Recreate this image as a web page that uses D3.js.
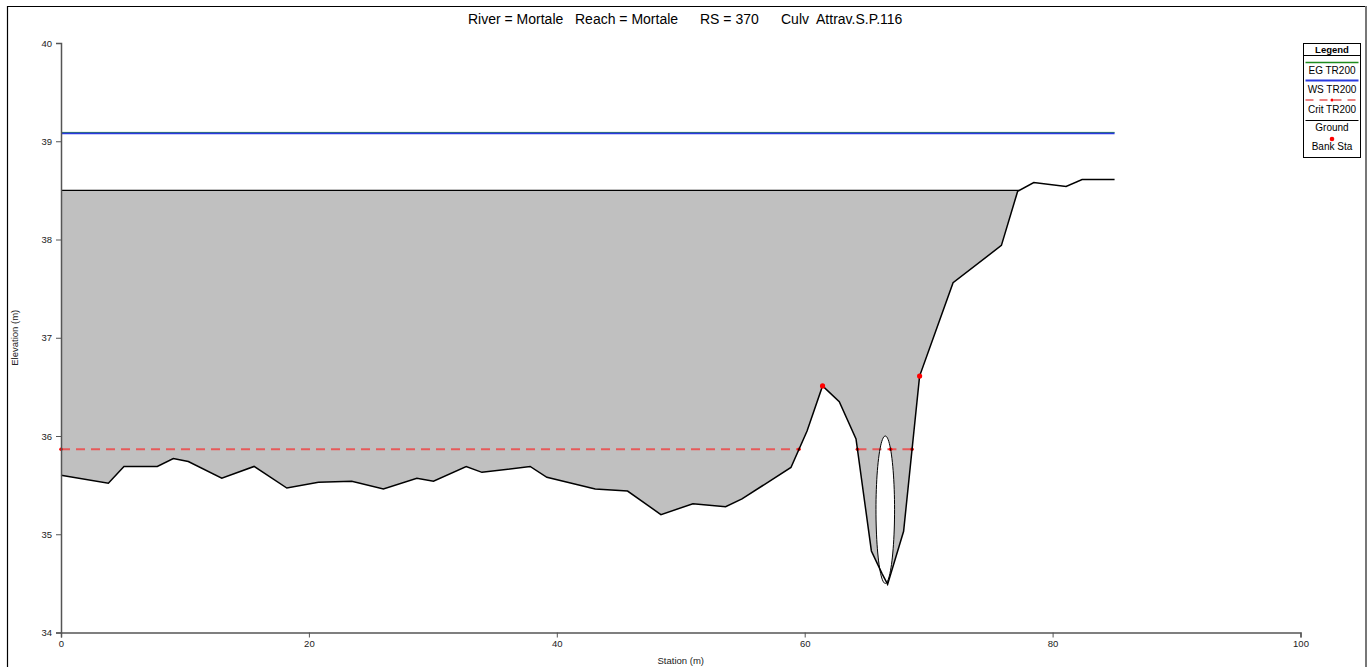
<!DOCTYPE html>
<html>
<head>
<meta charset="utf-8">
<script src="https://cdn.jsdelivr.net/npm/d3@7"></script>
<style>
  body { margin: 0; background: #fff; }
  text { font-family: "Liberation Sans", Arial, sans-serif; }
</style>
</head>
<body>
<svg id="chart" width="1372" height="667"></svg>
<script>
// ---- cross-section data (Station in m, Elevation in m) ----
const titleParts = ["River = Mortale", "Reach = Mortale", "RS = 370", "Culv  Attrav.S.P.116"];

const groundSta = [0, 3.82, 5.08, 7.77, 9.06, 10.27, 12.97, 15.58, 18.22, 20.77,
  23.46, 26.01, 28.71, 30.05, 32.69, 33.96, 37.85, 39.20, 43.10, 45.71,
  48.40, 50.98, 53.62, 54.94, 58.89, 60.19, 61.44, 62.79, 64.14, 65.38,
  66.24, 66.69, 67.98, 69.27, 71.97, 75.87, 77.18, 78.48, 81.09, 82.38, 85.00];
const groundElev = [35.60, 35.52, 35.69, 35.69, 35.77, 35.74, 35.57, 35.69, 35.47, 35.53,
  35.54, 35.46, 35.57, 35.54, 35.69, 35.63, 35.69, 35.58, 35.46, 35.44,
  35.20, 35.31, 35.28, 35.36, 35.68, 36.05, 36.51, 36.35, 35.97, 34.83,
  34.60, 34.49, 35.03, 36.61, 37.56, 37.94, 38.49, 38.58, 38.54, 38.61, 38.61];

const bankSta = [61.44, 69.27];

// road embankment / culvert
const deckElev = 38.5;
const culvCenterSta = 66.5;
const culvInvert = 34.5;
const culvDiam = 1.5;

// computed water profiles (TR200)
const profileSta = [0, 85];
const egElev = [39.09, 39.09];
const wsElev = [39.08, 39.08];
const critElev = 35.865;

const xTicks = [0, 20, 40, 60, 80, 100];
const yTicks = [34, 35, 36, 37, 38, 39, 40];

const legendItems = ["EG TR200", "WS TR200", "Crit TR200", "Ground", "Bank Sta"];

// ---- layout ----
const svg = d3.select("#chart");
const x = d3.scaleLinear().domain([0, 100]).range([61, 1300.5]);
const y = d3.scaleLinear().domain([34, 40]).range([632.5, 43]);

const ground = groundSta.map((s, i) => [s, groundElev[i]]);
function groundAt(s) {
  for (let i = 1; i < ground.length; i++) {
    if (s <= ground[i][0]) {
      const [s0, e0] = ground[i - 1], [s1, e1] = ground[i];
      return e0 + (e1 - e0) * (s - s0) / (s1 - s0);
    }
  }
  return ground[ground.length - 1][1];
}
// crossings of the ground line with a horizontal level
function crossings(level) {
  const out = [];
  for (let i = 1; i < ground.length; i++) {
    const [s0, e0] = ground[i - 1], [s1, e1] = ground[i];
    if ((e0 - level) * (e1 - level) < 0) {
      out.push({ s: s0 + (level - e0) * (s1 - s0) / (e1 - e0), up: e1 > e0 });
    }
  }
  return out;
}

const line = d3.line().x(d => x(d[0])).y(d => y(d[1]));

// outer frame
svg.append("line").attr("x1", 7.5).attr("x2", 7.5).attr("y1", 6).attr("y2", 667).attr("stroke", "#000").attr("stroke-width", 1.2);
svg.append("line").attr("x1", 7).attr("x2", 1366).attr("y1", 6.5).attr("y2", 6.5).attr("stroke", "#000").attr("stroke-width", 1.2);
svg.append("line").attr("x1", 1366).attr("x2", 1366).attr("y1", 6).attr("y2", 667).attr("stroke", "#777").attr("stroke-width", 2);

// title
const titleX = [468, 575, 700, 781];
svg.selectAll("text.title").data(titleParts).join("text")
  .attr("class", "title")
  .attr("x", (d, i) => titleX[i]).attr("y", 23.5)
  .attr("font-size", 14).attr("fill", "#000")
  .style("white-space", "pre")
  .text(d => d);

// embankment fill (ground up to deck), culvert opening left clear
const deckEnd = crossings(deckElev).find(c => c.up).s;
const fillPts = [[0, deckElev], [deckEnd, deckElev]];
for (let i = ground.length - 1; i >= 0; i--) {
  if (ground[i][0] < deckEnd) fillPts.push(ground[i]);
}
svg.append("path").attr("d", line(fillPts) + "Z").attr("fill", "#c0c0c0").attr("stroke", "none");

const r = culvDiam / 2, cElev = culvInvert + r;
const culvPts = d3.range(0, 360, 4).map(a => {
  const t = a * Math.PI / 180;
  return [culvCenterSta + r * Math.cos(t), cElev + r * Math.sin(t)];
});
const culvLine = d3.line().x(d => x(d[0])).y(d => y(d[1])).curve(d3.curveLinearClosed);
svg.append("path").attr("d", culvLine(culvPts)).attr("fill", "#fff").attr("stroke", "none");

// critical depth line (where above ground)
const critX = crossings(critElev);
const critSegs = [];
let start = groundAt(0) < critElev ? 0 : null;
critX.forEach(c => {
  if (c.up) { if (start !== null) critSegs.push([start, c.s]); start = null; }
  else start = c.s;
});
const critColor = "#e65a5a";
critSegs.forEach(sg => {
  svg.append("path").attr("d", line([[sg[0], critElev], [sg[1], critElev]]))
    .attr("stroke", critColor).attr("stroke-width", 2).attr("stroke-dasharray", "9,6").attr("fill", "none");
});
const critDots = [];
critSegs.forEach(sg => { critDots.push(sg[0], sg[1]); });
critDots.push(culvCenterSta + Math.sqrt(r * r - (critElev - cElev) ** 2));
svg.selectAll("circle.crit").data(critDots).join("circle")
  .attr("class", "crit").attr("cx", d => x(d)).attr("cy", y(critElev)).attr("r", 1.8).attr("fill", "#ff0000");

// EG and WS
const egColor = "#1e8c1e", wsColor = "#2a3ae0";
svg.append("path").attr("d", line(profileSta.map((s, i) => [s, egElev[i]])))
  .attr("stroke", egColor).attr("stroke-width", 1).attr("fill", "none");
svg.append("path").attr("d", line(profileSta.map((s, i) => [s, wsElev[i]])))
  .attr("stroke", wsColor).attr("stroke-width", 1.8).attr("fill", "none");

// ground, deck and culvert outlines
svg.append("path").attr("d", line(ground)).attr("stroke", "#000").attr("stroke-width", 1.5).attr("fill", "none");
svg.append("path").attr("d", line([[0, deckElev], [deckEnd, deckElev]])).attr("stroke", "#000").attr("stroke-width", 1.2);
svg.append("path").attr("d", culvLine(culvPts)).attr("fill", "none").attr("stroke", "#000").attr("stroke-width", 1);

// bank stations
svg.selectAll("circle.bank").data(bankSta).join("circle")
  .attr("class", "bank").attr("cx", d => x(d)).attr("cy", d => y(groundAt(d))).attr("r", 2.6).attr("fill", "#ff0000");

// axes
const axisColor = "#555";
const gx = svg.append("g").attr("transform", `translate(0,${y(34)})`);
gx.call(d3.axisBottom(x).tickValues(d3.range(0, 101, 4)).tickSize(3).tickFormat(""));
gx.call(d3.axisBottom(x).tickValues(xTicks).tickSize(5).tickPadding(3).tickFormat(d3.format("d")));
const gy = svg.append("g").attr("transform", `translate(${x(0)},0)`);
gy.call(d3.axisLeft(y).tickValues(d3.range(34, 40.001, 0.2)).tickSize(3).tickFormat(""));
gy.call(d3.axisLeft(y).tickValues(yTicks).tickSize(5).tickPadding(4).tickFormat(d3.format("d")));
[gx, gy].forEach(g => {
  g.selectAll(".domain").attr("stroke", axisColor).attr("stroke-width", 1.5);
  g.selectAll(".tick line").attr("stroke", axisColor);
  g.selectAll(".tick text").attr("fill", "#222").attr("font-size", 9.5).attr("font-family", "Liberation Sans, Arial, sans-serif");
});

svg.append("text").attr("x", x(50)).attr("y", 664).attr("text-anchor", "middle")
  .attr("font-size", 9.5).attr("fill", "#222").text("Station (m)");
svg.append("text").attr("transform", `translate(18,${y(37)}) rotate(-90)`).attr("text-anchor", "middle")
  .attr("font-size", 9.5).attr("fill", "#222").text("Elevation (m)");

// legend
const lg = svg.append("g");
const lx0 = 1303.5, lx1 = 1360.5, lcx = (lx0 + lx1) / 2;
lg.append("rect").attr("x", lx0).attr("y", 43.5).attr("width", lx1 - lx0).attr("height", 114)
  .attr("fill", "#fff").attr("stroke", "#000");
lg.append("text").attr("x", lcx).attr("y", 52.5).attr("text-anchor", "middle")
  .attr("font-size", 9.5).attr("font-weight", "bold").text("Legend");
lg.append("line").attr("x1", lx0).attr("x2", lx1).attr("y1", 55.5).attr("y2", 55.5).attr("stroke", "#000");
lg.append("line").attr("x1", lx0 + 2).attr("x2", lx1 - 2).attr("y1", 62.5).attr("y2", 62.5).attr("stroke", egColor).attr("stroke-width", 1.5);
lg.append("line").attr("x1", lx0 + 2).attr("x2", lx1 - 2).attr("y1", 80.5).attr("y2", 80.5).attr("stroke", wsColor).attr("stroke-width", 2);
lg.append("line").attr("x1", lx0 + 2).attr("x2", lx1 - 2).attr("y1", 100).attr("y2", 100).attr("stroke", critColor).attr("stroke-width", 1.5).attr("stroke-dasharray", "8,6");
lg.append("circle").attr("cx", lcx).attr("cy", 100).attr("r", 1.5).attr("fill", "#ff0000");
lg.append("line").attr("x1", lx0 + 2).attr("x2", lx1 - 2).attr("y1", 120.5).attr("y2", 120.5).attr("stroke", "#000").attr("stroke-width", 1.2);
lg.append("circle").attr("cx", lcx).attr("cy", 139).attr("r", 2.3).attr("fill", "#ff0000");
const legendY = [73.5, 92.5, 112.5, 131, 150];
lg.selectAll("text.item").data(legendItems).join("text")
  .attr("class", "item").attr("x", lcx).attr("y", (d, i) => legendY[i])
  .attr("text-anchor", "middle").attr("font-size", 10).attr("fill", "#000").text(d => d);
</script>
</body>
</html>
